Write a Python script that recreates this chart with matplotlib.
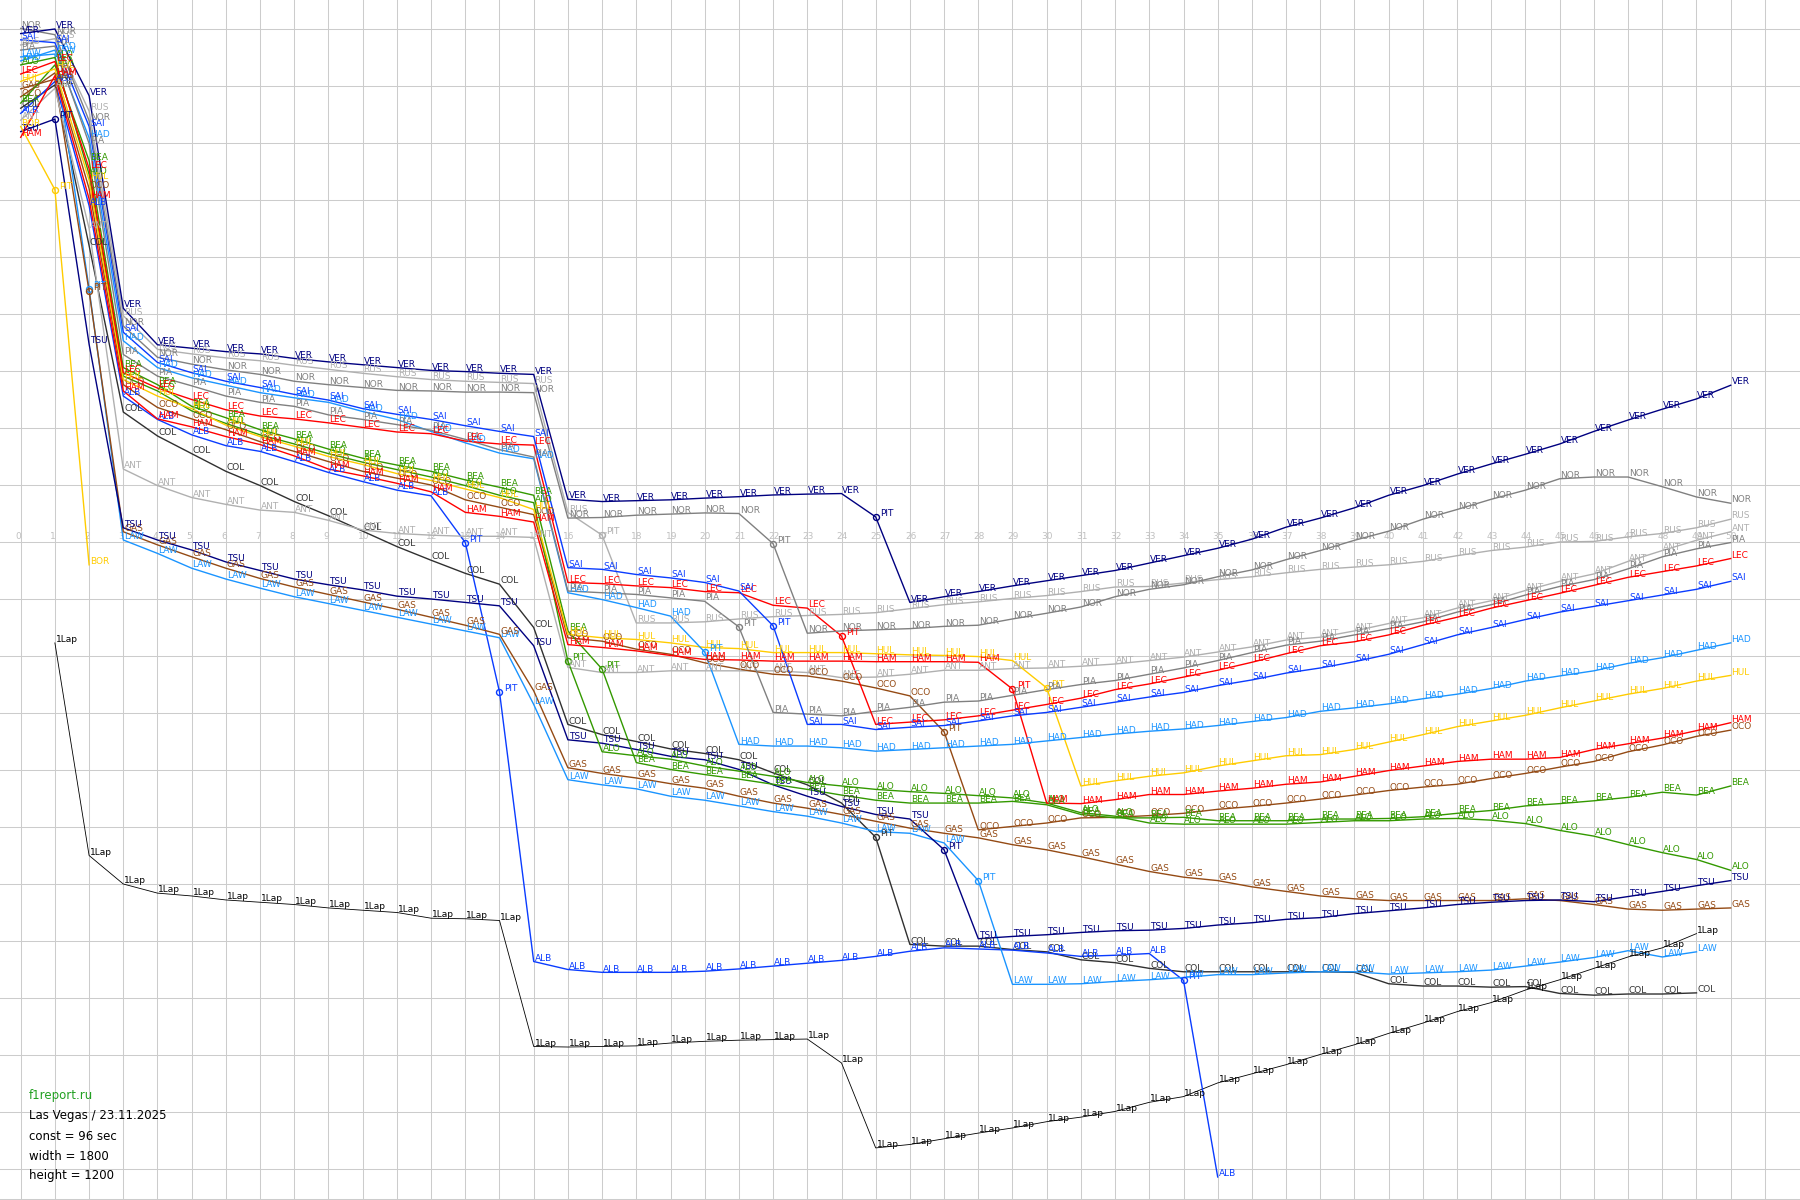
import matplotlib
matplotlib.use("Agg")
import matplotlib.pyplot as plt

plt.rcParams["font.family"] = ["DejaVu Sans"]

# gap in seconds vs. const lap time (positive = further back), laps 0..50
ver = [-89.2, -90.0, -78.3, -41.0, -34.6, -34.0, -33.4, -33.0, -32.2, -31.6, -31.1, -30.6, -30.1, -29.9, -29.6, -29.4,
       -7.5, -7.1, -7.25, -7.4, -7.7, -7.95, -8.25, -8.4, -8.5, -4.4, 10.6, 9.6, 8.7, 7.7, 6.8, 5.9, 5.0, 3.7, 2.4, 1.1,
       -0.5, -2.6, -4.2, -6.0, -8.2, -9.9, -11.9, -13.7, -15.4, -17.2, -19.4, -21.4, -23.3, -25.1, -27.5]
nor = [-90.1, -89.0, -73.9, -37.9, -32.4, -31.2, -30.2, -29.4, -28.2, -27.6, -27.1, -26.6, -26.5, -26.3, -26.3, -26.2,
       -4.2, -4.3, -4.7, -4.9, -5.1, -5.0, 0.3, 16.0, 15.6, 15.4, 15.2, 14.8, 14.6, 13.5, 12.5, 11.4, 9.6, 8.3, 7.5, 6.1,
       4.9, 3.1, 1.5, -0.3, -1.9, -4.0, -5.7, -7.5, -9.1, -11.1, -11.4, -11.4, -9.7, -7.9, -6.8]
rus = [-87.2, -88.3, -75.6, -39.7, -33.8, -33.0, -32.3, -31.8, -31.0, -30.3, -29.6, -29.0, -28.5, -28.2, -28.0, -27.8,
       -5.2, -1.2, 14.2, 14.2, 14.0, 13.5, 13.1, 12.9, 12.7, 12.4, 11.7, 11.0, 10.5, 9.9, 9.4, 8.7, 7.9, 7.8, 7.2, 6.6,
       6.1, 5.4, 4.8, 4.4, 4.0, 3.4, 2.4, 1.5, 0.9, 0.0, -0.1, -0.9, -1.5, -2.5, -4.0]
pia = [-86.3, -87.0, -69.9, -32.9, -29.1, -27.4, -25.6, -24.5, -23.8, -22.3, -21.5, -20.6, -19.6, -18.0, -16.2, -14.9,
       8.6, 8.9, 9.2, 9.8, 10.4, 14.9, 29.9, 30.2, 30.5, 29.7, 29.0, 28.1, 27.9, 26.9, 25.9, 25.0, 24.3, 23.2, 22.1, 20.8,
       19.4, 18.1, 17.4, 16.3, 15.2, 14.0, 12.3, 11.0, 9.3, 7.8, 6.6, 4.7, 2.6, 1.2, 0.1]
ant = [-74.0, -79.6, -55.0, -12.8, -9.9, -7.8, -6.6, -5.6, -5.2, -3.8, -2.1, -1.5, -1.2, -1.0, -1.0, -0.8,
       22.0, 22.9, 22.9, 22.6, 22.6, 22.6, 22.6, 22.9, 23.8, 23.7, 23.2, 22.5, 22.5, 22.2, 22.1, 21.8, 21.4, 20.8, 20.2, 19.3,
       18.4, 17.2, 16.7, 15.6, 14.3, 13.3, 11.6, 10.3, 8.5, 6.9, 5.6, 3.4, 1.5, -0.3, -1.8]
sai = [-88.1, -87.6, -72.9, -36.8, -31.5, -29.7, -28.2, -27.1, -25.9, -24.9, -23.4, -22.4, -21.5, -20.4, -19.4, -18.5,
       4.5, 4.8, 5.7, 6.3, 7.1, 8.6, 14.7, 32.0, 32.0, 32.9, 32.5, 32.2, 31.4, 30.5, 29.9, 29.0, 28.1, 27.2, 26.4, 25.2,
       24.2, 23.0, 22.1, 21.0, 19.7, 18.0, 16.3, 15.0, 13.6, 12.3, 11.3, 10.3, 9.3, 8.3, 6.9]
had = [-84.4, -86.3, -70.9, -35.3, -30.6, -28.8, -27.5, -26.2, -25.3, -24.5, -22.9, -21.5, -19.4, -17.4, -15.6, -14.6,
       8.9, 10.1, 11.5, 13.0, 19.3, 35.5, 35.8, 35.8, 36.1, 36.7, 36.4, 36.1, 35.8, 35.5, 34.9, 34.3, 33.7, 33.2, 32.8, 32.2,
       31.5, 30.8, 29.7, 29.1, 28.4, 27.5, 26.7, 25.7, 24.4, 23.5, 22.6, 21.3, 20.3, 19.0, 17.7]
lec = [-82.1, -84.3, -65.5, -29.7, -27.0, -25.0, -23.2, -22.1, -21.6, -20.9, -20.1, -19.3, -19.0, -17.7, -17.2, -17.0,
       7.1, 7.3, 7.7, 8.0, 8.7, 8.9, 11.1, 11.6, 16.5, 32.0, 31.6, 31.2, 30.5, 29.5, 28.5, 27.4, 25.9, 24.9, 23.7, 22.5,
       21.1, 19.6, 18.2, 17.5, 16.3, 14.6, 13.2, 11.6, 10.3, 9.0, 7.6, 6.2, 5.2, 4.2, 2.9]
hul = [-80.8, -83.0, -63.5, -28.5, -25.6, -23.4, -20.5, -18.5, -16.8, -15.0, -13.6, -12.0, -10.8, -9.3, -7.8, -5.7,
       16.2, 16.8, 17.1, 17.7, 18.5, 18.7, 19.4, 19.4, 19.4, 19.6, 19.8, 19.9, 20.1, 20.8, 25.6, 42.8, 41.9, 41.1, 40.5, 39.3,
       38.4, 37.5, 37.3, 36.4, 35.1, 33.8, 32.4, 31.4, 30.4, 29.1, 27.9, 26.7, 25.7, 24.4, 23.4]
bea = [-77.0, -83.7, -66.9, -30.6, -27.6, -23.8, -21.8, -19.7, -18.1, -16.3, -14.7, -13.5, -12.4, -10.9, -9.6, -8.2,
       15.6, 22.3, 38.7, 39.9, 40.8, 41.6, 42.5, 43.4, 44.4, 45.3, 45.8, 45.8, 45.8, 45.5, 46.1, 47.8, 48.4, 48.4, 48.3, 48.9,
       48.9, 48.9, 48.6, 48.6, 48.5, 48.2, 47.6, 47.1, 46.3, 45.9, 45.4, 44.8, 43.9, 44.4, 42.8]
alo = [-83.7, -85.0, -64.5, -29.1, -26.5, -23.0, -20.8, -18.8, -17.2, -15.5, -14.0, -12.7, -11.4, -9.9, -8.2, -6.9,
       20.9, 36.8, 37.5, 38.1, 39.3, 40.2, 41.1, 42.2, 42.8, 43.4, 43.8, 44.1, 44.5, 44.9, 45.8, 47.5, 48.1, 49.3, 49.5, 49.5,
       49.5, 49.5, 49.2, 48.9, 48.9, 48.6, 48.5, 48.8, 49.4, 50.6, 51.6, 53.1, 54.5, 55.7, 57.6]
oco = [-78.1, -82.3, -62.0, -27.6, -23.6, -21.6, -19.7, -17.6, -15.9, -14.1, -12.4, -11.2, -10.0, -7.4, -6.1, -4.8,
       16.8, 17.4, 18.8, 19.7, 21.2, 22.3, 23.2, 23.5, 24.4, 25.6, 27.0, 33.3, 50.5, 49.9, 49.3, 48.4, 48.3, 48.0, 47.6, 46.9,
       46.4, 45.8, 45.1, 44.4, 43.6, 43.0, 42.5, 41.5, 40.6, 39.5, 38.5, 36.8, 35.6, 34.1, 33.0]
ham = [-71.0, -81.8, -60.2, -26.5, -21.6, -20.2, -18.5, -17.1, -15.1, -12.8, -11.6, -10.3, -8.8, -5.2, -4.5, -3.5,
       18.0, 18.5, 19.1, 19.9, 20.6, 20.7, 20.9, 20.9, 20.9, 21.0, 21.0, 21.0, 21.1, 25.8, 45.8, 45.9, 45.2, 44.3, 44.3, 43.7,
       43.2, 42.5, 42.1, 41.1, 40.1, 39.3, 38.5, 38.1, 38.1, 37.8, 36.4, 35.4, 34.4, 33.1, 31.7]
alb = [-75.2, -80.8, -59.0, -25.6, -21.5, -18.8, -16.9, -15.9, -14.1, -12.2, -10.6, -9.1, -8.1, 0.1, 26.3, 73.6,
       75.0, 75.5, 75.5, 75.5, 75.3, 74.9, 74.4, 73.9, 73.4, 72.7, 71.8, 71.2, 71.4, 71.6, 72.1, 72.7, 72.5, 72.2, 76.9, 111.4,
       None, None, None, None, None, None, None, None, None, None, None, None, None, None, None]
col = [-76.1, -80.2, -52.0, -22.8, -18.6, -15.5, -12.4, -9.9, -7.1, -4.6, -1.9, 0.8, 3.2, 5.5, 7.4, 15.0,
       32.0, 33.8, 35.0, 36.3, 37.1, 38.2, 40.5, 42.6, 45.8, 51.8, 70.6, 70.9, 70.9, 71.5, 71.9, 73.3, 73.8, 74.8, 75.4, 75.4,
       75.4, 75.4, 75.4, 75.5, 77.5, 77.9, 77.9, 78.1, 78.0, 79.2, 79.5, 79.3, 79.3, 79.1, None]
tsu = [-72.0, -74.2, -34.7, -2.5, -0.35, 1.4, 3.5, 5.0, 6.5, 7.5, 8.4, 9.5, 10.0, 10.6, 11.2, 18.2,
       34.7, 35.3, 36.4, 37.6, 38.2, 39.9, 42.6, 44.6, 46.4, 47.8, 48.6, 54.0, 69.6, 69.2, 68.9, 68.5, 68.2, 68.1, 67.8, 67.2,
       66.8, 66.2, 65.9, 65.2, 64.7, 64.2, 63.6, 63.2, 62.9, 62.8, 63.1, 62.2, 61.3, 60.3, 59.4]
gas = [-79.5, -81.2, -44.0, -1.8, 0.5, 2.6, 4.6, 6.4, 7.9, 9.2, 10.5, 11.8, 13.2, 14.6, 16.2, 26.1,
       39.6, 40.6, 41.4, 42.4, 43.2, 44.6, 45.8, 46.7, 47.8, 49.0, 50.2, 51.1, 51.9, 53.1, 54.0, 55.2, 56.5, 57.8, 58.8, 59.4,
       60.5, 61.3, 62.1, 62.6, 62.9, 62.9, 62.9, 62.9, 62.6, 62.9, 63.6, 64.4, 64.6, 64.4, 64.2]
law = [-85.1, -85.6, -44.4, -0.35, 2.0, 4.6, 6.5, 8.1, 9.6, 10.8, 12.0, 13.2, 14.4, 15.6, 16.8, 28.5,
       41.7, 42.6, 43.3, 44.6, 45.3, 46.3, 47.3, 48.1, 49.3, 50.8, 51.1, 52.8, 59.4, 77.6, 77.6, 77.5, 77.1, 76.8, 76.4, 75.9,
       75.9, 75.6, 75.4, 75.4, 75.8, 75.6, 75.4, 75.1, 74.4, 73.7, 72.9, 71.7, 72.8, 71.9, None]
bor = [-72.9, -61.8, 4.0] + [None] * 48

# lapped-car reference line, laps 1..49
one_lap = [17.7, 55.0, 60.0, 61.6, 62.1, 62.8, 63.2, 63.6, 64.2, 64.6, 65.0, 66.0, 66.1, 66.4, 88.5, 88.6, 88.5, 88.4,
           87.9, 87.6, 87.4, 87.3, 87.2, 91.4, 106.3, 105.7, 104.7, 103.7, 102.8, 101.7, 100.9, 99.9, 98.3, 97.3, 94.9,
           93.3, 91.7, 89.9, 88.2, 86.2, 84.4, 82.4, 80.8, 78.6, 76.8, 74.8, 72.8, 71.2, 68.7]

navy, gray, lgray = "#000080", "#808080", "#b0b0b0"
blue, lblue, red = "#0a3cff", "#1a94ff", "#ff0000"
green, gold, brown, dark = "#339900", "#ffcc00", "#944a14", "#303030"

drivers = [
    ("COL", col, dark, [25]),
    ("ALB", alb, blue, [13, 14, 34]),
    ("LAW", law, lblue, [2, 28]),
    ("GAS", gas, brown, [2]),
    ("TSU", tsu, navy, [1, 27]),
    ("BOR", bor, gold, [1]),
    ("ANT", ant, lgray, []),
    ("RUS", rus, lgray, [17]),
    ("OCO", oco, brown, [27]),
    ("ALO", alo, green, [16]),
    ("BEA", bea, green, [17]),
    ("HAM", ham, red, [29]),
    ("HUL", hul, gold, [30]),
    ("HAD", had, lblue, [20]),
    ("PIA", pia, gray, [21]),
    ("LEC", lec, red, [24]),
    ("SAI", sai, blue, [22]),
    ("NOR", nor, gray, [22]),
    ("VER", ver, navy, [25]),
]

fig = plt.figure(figsize=(18, 12), dpi=100)
ax = fig.add_axes([0, 0, 1, 1])

# pixel layout of the original: lap step 34.2 px, 10 s = 57 px
ax.set_xlim(-20.7 / 34.2, (1800 - 20.7) / 34.2)
ax.set_ylim((1200 - 542) / 5.7, -542 / 5.7)
ax.set_xticks(range(0, 52))
ax.set_yticks(range(-90, 111, 10))
ax.grid(True, color="#cccccc", lw=0.75)
ax.set_axisbelow(True)
ax.tick_params(length=0, labelbottom=False, labelleft=False)
for s in ax.spines.values():
    s.set_visible(False)
ax.axhline(115.25, color="#cccccc", lw=0.75, zorder=0)

for lap in range(51):
    ax.annotate(str(lap), (lap, -0.5), xytext=(-3.6, 0), textcoords="offset points",
                fontsize=6.5, color="#c0c0c0", ha="left", va="baseline", zorder=1)

# 1 lap line
lx = list(range(1, 50))
ax.plot(lx, one_lap, color="black", lw=0.6, zorder=2)
for x, y in zip(lx, one_lap):
    ax.annotate("1Lap", (x, y), xytext=(0.6, 0.6), textcoords="offset points",
                fontsize=6.5, color="black", ha="left", va="baseline", zorder=5)

for code, vals, color, pit_laps in drivers:
    xs = [i for i, v in enumerate(vals) if v is not None]
    ys = [vals[i] for i in xs]
    ax.plot(xs, ys, color=color, lw=1.0, zorder=3)
    for x, y in zip(xs, ys):
        if x in pit_laps:
            ax.plot(x, y, "o", ms=4.3, mfc="none", mec=color, mew=1.0, zorder=4)
            ax.annotate("PIT", (x, y), xytext=(3.0, 0.6), textcoords="offset points",
                        fontsize=6.5, color=color, ha="left", va="baseline", zorder=5)
        else:
            ax.annotate(code, (x, y), xytext=(0.6, 0.6), textcoords="offset points",
                        fontsize=6.5, color=color, ha="left", va="baseline", zorder=5)

info = [("f1report.ru", "#22a022"), ("Las Vegas / 23.11.2025", "black"), ("const = 96 sec", "black"),
        ("width = 1800", "black"), ("height = 1200", "black")]
for i, (t, c) in enumerate(info):
    fig.text(29 / 1800, 1 - (1096 + 20 * i) / 1200, t, fontsize=8.5, color=c, ha="left", va="center")

fig.savefig("out.png", dpi=100, facecolor="white")
plt.close(fig)
